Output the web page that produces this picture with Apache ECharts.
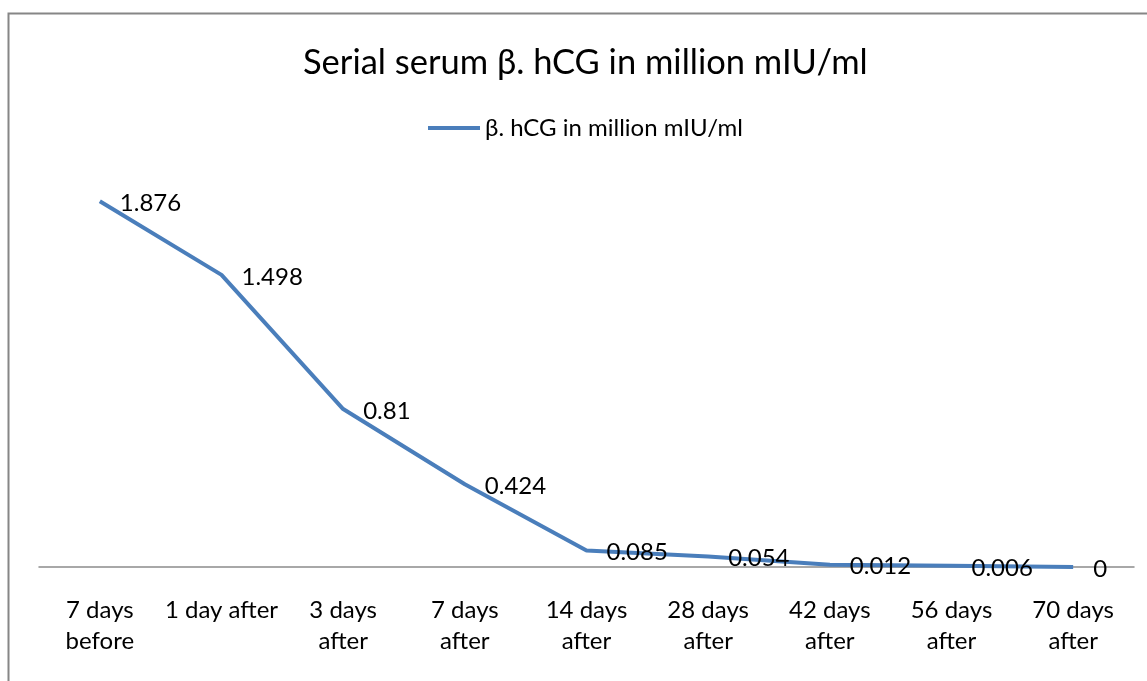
<!DOCTYPE html>
<html><head><meta charset="utf-8">
<script src="https://cdn.jsdelivr.net/npm/echarts@6/dist/echarts.min.js"></script>
<style>html,body{margin:0;padding:0;background:#fff}#c{width:1147px;height:681px}</style>
</head><body><div id="c"></div>
<script>
const categories = ['7 days\nbefore','1 day after','3 days\nafter','7 days\nafter','14 days\nafter','28 days\nafter','42 days\nafter','56 days\nafter','70 days\nafter'];
const seriesName = 'β. hCG in million mIU/ml';
const values = [1.876, 1.498, 0.81, 0.424, 0.085, 0.054, 0.012, 0.006, 0];
const titleText = 'Serial serum β. hCG in million mIU/ml';

const chart = echarts.init(document.getElementById('c'), null, {renderer:'canvas'});
const FONT = 'Lato, "Open Sans", sans-serif';
chart.setOption({
  backgroundColor:'#fff',
  animation:false,
  textStyle:{fontFamily:FONT},
  graphic:[{type:'rect',shape:{x:8.5,y:13.5,width:1200,height:700},style:{fill:'none',stroke:'#868686',lineWidth:2},silent:true}],
  title:{text:titleText,left:298,top:40,padding:5,textStyle:{fontFamily:FONT,fontSize:34.5,fontWeight:'normal',color:'#000'}},
  legend:{top:111,left:423,padding:5,itemWidth:52,itemHeight:4,itemGap:7,icon:'rect',
    textStyle:{fontFamily:FONT,fontSize:24,color:'#000'},data:[seriesName]},
  grid:{left:39,right:13,top:177,bottom:114},
  xAxis:{type:'category',data:categories,boundaryGap:true,
    axisLine:{show:true,lineStyle:{color:'#8c8c8c',width:1.5}},
    axisTick:{show:false},
    axisLabel:{interval:0,fontFamily:FONT,fontSize:24,color:'#000',lineHeight:31,margin:28}},
  yAxis:{type:'value',min:0,max:2,show:false,splitLine:{show:false}},
  series:[{name:seriesName,type:'line',data:values,showSymbol:true,symbol:'circle',symbolSize:0,
    lineStyle:{color:'#4a7ebb',width:4},itemStyle:{color:'#4a7ebb'},
    label:{show:true,position:'right',distance:20,offset:[0,2],fontFamily:FONT,fontSize:24,color:'#000'}}]
});
</script></body></html>
